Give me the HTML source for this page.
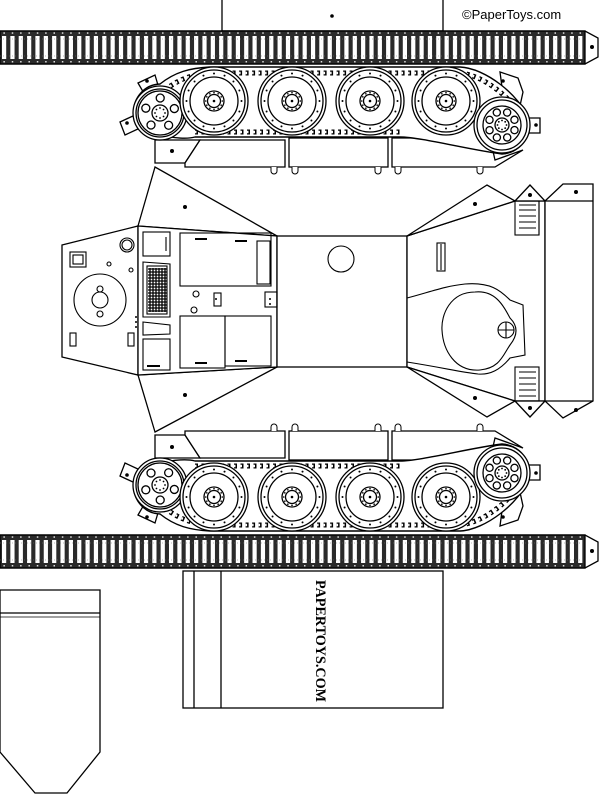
<!DOCTYPE html>
<html><head><meta charset="utf-8"><style>
html,body{margin:0;padding:0;background:#fff;width:600px;height:795px;overflow:hidden}
svg{display:block}
</style></head><body>
<svg id="s" width="600" height="795" viewBox="0 0 600 795" xmlns="http://www.w3.org/2000/svg" fill="none" stroke="#000" stroke-width="1.3">
<rect x="222" y="-2" width="221" height="33" fill="#fff"/>
<circle cx="332" cy="16" r="1.8" fill="#000" stroke="none"/>
<text x="462" y="19" font-family="Liberation Sans, sans-serif" font-size="13" fill="#000" stroke="none">©PaperToys.com</text>
<g id="track1"></g>
<g id="upper"></g>
<g id="lower" transform="translate(0,598) scale(1,-1)"></g>
<!-- hull -->
<g fill="#fff">
<polygon points="62,245 138,226 138,375 62,357"/>
<polygon points="155,167 138,226 277,236"/>
<polygon points="155,432 138,375 277,367"/>
<polygon points="138,226 277,236 277,367 138,375"/>
<rect x="277" y="236" width="130" height="131"/>
<polygon points="407,236 515,201 545,201 545,401 515,401 407,367"/>
<polygon points="407,236 487,185 515,201"/>
<polygon points="407,367 487,417 515,401"/>
<polygon points="515,201 530,185 545,201"/>
<polygon points="515,401 530,417 545,401"/>
<polygon points="545,201 563,184 593,184 593,401 563,418 545,401"/>
</g>
<line x1="545" y1="201" x2="593" y2="201"/><line x1="545" y1="401" x2="593" y2="401"/>
<g fill="#000" stroke="none">
<circle cx="185" cy="207" r="2"/><circle cx="185" cy="395" r="2"/>
<circle cx="475" cy="204" r="2"/><circle cx="475" cy="398" r="2"/>
<circle cx="530" cy="195" r="2"/><circle cx="530" cy="408" r="2"/>
<circle cx="576" cy="192" r="2"/><circle cx="576" cy="410" r="2"/>
</g>
<!-- vents right -->
<g stroke-width="1.1">
<rect x="515" y="201" width="24" height="34"/><line x1="539" y1="201" x2="539" y2="235"/>
<path d="M519 205h17M519 210h17M519 216h17M519 222h17M519 228h17"/>
<rect x="515" y="367" width="24" height="34"/>
<path d="M519 372h17M519 378h17M519 384h17M519 390h17M519 396h17"/>
<rect x="437" y="243" width="8" height="28"/><line x1="441" y1="244" x2="441" y2="270"/>
<circle cx="341" cy="259" r="13"/>
<path d="M407 298 C430 292 445 286 465 284 C490 282 500 290 510 300 L523 305 L525 355 L510 358 C500 370 490 375 478 374 C460 372 445 368 407 362"/>
<path d="M475 292 C450 292 441 315 442 330 C443 350 455 372 480 370 C500 368 503 355 510 345 C518 335 518 326 510 318 C503 305 495 290 475 292Z"/>
<circle cx="506" cy="330" r="8"/><path d="M498 330h16M506 322v16"/>
</g>
<!-- left side details -->
<g stroke-width="1.1">
<rect x="143" y="232" width="27" height="24"/><line x1="166" y1="237" x2="166" y2="251"/>
<polygon points="143,262 170,264 170,317 143,317"/>
<rect x="147" y="266" width="20" height="48" fill="#fff"/>
<g id="grid"></g>
<polygon points="143,322 170,325 170,334 143,335"/>
<rect x="143" y="339" width="27" height="31"/><line x1="147" y1="366" x2="160" y2="366" stroke-width="2"/>
<rect x="180" y="233" width="91" height="53"/><rect x="257" y="241" width="13" height="43"/>
<line x1="195" y1="239" x2="207" y2="239" stroke-width="2"/><line x1="235" y1="241" x2="247" y2="241" stroke-width="2"/>
<rect x="180" y="316" width="45" height="52"/><rect x="225" y="316" width="46" height="50"/>
<line x1="195" y1="363" x2="207" y2="363" stroke-width="2"/><line x1="235" y1="361" x2="247" y2="361" stroke-width="2"/>
<circle cx="196" cy="294" r="3"/><circle cx="194" cy="310" r="3"/>
<rect x="214" y="293" width="7" height="13"/>
<rect x="265" y="292" width="12" height="15"/>
<circle cx="127" cy="245" r="7"/><circle cx="127" cy="245" r="5"/>
<rect x="70" y="252" width="16" height="15"/><rect x="73" y="255" width="10" height="9"/>
<circle cx="109" cy="264" r="2"/><circle cx="131" cy="270" r="2"/>
<circle cx="100" cy="300" r="26"/><circle cx="100" cy="300" r="8"/>
<circle cx="100" cy="289" r="3"/><circle cx="100" cy="314" r="3"/>
<rect x="70" y="333" width="6" height="13"/><rect x="128" y="333" width="6" height="13"/>
</g>
<g fill="#000" stroke="none" id="lsd"><circle cx="136" cy="317" r="1"/><circle cx="136" cy="322" r="1"/><circle cx="136" cy="327" r="1"/><circle cx="216" cy="299" r="1"/><circle cx="270" cy="299" r="1"/><circle cx="270" cy="304" r="1"/></g>
<!-- bottom box -->
<rect x="183" y="571" width="260" height="137" fill="#fff"/>
<line x1="194" y1="571" x2="194" y2="708"/><line x1="221" y1="571" x2="221" y2="708"/>
<text x="0" y="0" transform="translate(316,580) rotate(90)" font-family="Liberation Serif, serif" font-weight="bold" font-size="15" fill="#000" stroke="none" textLength="122" lengthAdjust="spacingAndGlyphs">PAPERTOYS.COM</text>
<!-- left piece -->
<polygon points="0,590 100,590 100,752 67,793 35,793 0,752" fill="#fff"/>
<line x1="0" y1="613" x2="100" y2="613"/><line x1="0" y1="617" x2="100" y2="617" stroke-width="0.8"/>
<g id="track2"></g>
</svg>
<script>
const NS="http://www.w3.org/2000/svg";
function el(p,t,a){const e=document.createElementNS(NS,t);for(const k in a)e.setAttribute(k,a[k]);p.appendChild(e);return e;}
function track(g,y){
  el(g,'polygon',{points:`0,${y} 585,${y} 598,${y+7} 598,${y+26} 585,${y+33} 0,${y+33}`,fill:'#fff'});
  el(g,'rect',{x:0,y:y,width:585,height:33,fill:'#2a2a2a'});
  for(let x=2;x<585;x+=8.35){
    el(g,'rect',{x:x,y:y+5,width:4.2,height:23,fill:'#fff',stroke:'none'});
    el(g,'rect',{x:x+1.4,y:y+1.3,width:1.5,height:1.5,fill:'#ddd',stroke:'none'});
    el(g,'rect',{x:x+1.4,y:y+30,width:1.5,height:1.5,fill:'#ddd',stroke:'none'});
  }
  el(g,'line',{x1:0,y1:y+8,x2:585,y2:y+8,stroke:'#777','stroke-width':0.6,'stroke-dasharray':'1 2'});
  el(g,'line',{x1:0,y1:y+25,x2:585,y2:y+25,stroke:'#777','stroke-width':0.6,'stroke-dasharray':'1 2'});
  el(g,'circle',{cx:592,cy:y+16,r:2,fill:'#000',stroke:'none'});
}
track(document.getElementById('track1'),31);
track(document.getElementById('track2'),535);
function gear(g){
  // fenders
  el(g,'polygon',{points:'146,115 165,104 170,125 150,135',fill:'#fff'});
  el(g,'polygon',{points:'155,140 200,140 185,163 155,163',fill:'#fff'});
  el(g,'polygon',{points:'200,140 285,140 285,167 185,167 185,163',fill:'#fff'});
  el(g,'rect',{x:289,y:138,width:99,height:29,fill:'#fff'});
  el(g,'polygon',{points:'392,138 490,138 495,160 523,150 495,167 392,167',fill:'#fff'});
  el(g,'circle',{cx:172,cy:151,r:2,fill:'#000',stroke:'none'});
  [274,295,378,398,480].forEach(x=>{el(g,'path',{d:`M${x-3} 167 v4 a3 3 0 0 0 6 0 v-4`,fill:'#fff','stroke-width':1});});
  // tabs
  el(g,'polygon',{points:'120,122 135,115 140,128 125,135',fill:'#fff'});
  el(g,'circle',{cx:127,cy:123,r:1.8,fill:'#000',stroke:'none'});
  el(g,'polygon',{points:'138,83 155,75 160,92 145,95',fill:'#fff'});
  el(g,'circle',{cx:147,cy:81,r:1.8,fill:'#000',stroke:'none'});
  el(g,'polygon',{points:'500,72 518,78 523,92 518,115 505,110',fill:'#fff'});
  el(g,'circle',{cx:503,cy:81,r:1.8,fill:'#000',stroke:'none'});
  el(g,'polygon',{points:'528,118 540,118 540,133 528,133',fill:'#fff'});
  el(g,'circle',{cx:536,cy:125,r:1.8,fill:'#000',stroke:'none'});
  // track loop
  const loop='M160 84 C175 72 190 68 210 67 L460 67 C485 68 520 95 529 120 A29 29 0 0 1 502 154 C470 150 420 137 400 137 L195 137 C180 141 140 135 134 113 A27 27 0 0 1 160 84Z';
  el(g,'path',{d:loop,fill:'#fff','stroke-width':1.4});
  el(g,'path',{d:'M165 90 C180 78 195 74 210 73 L460 73 C483 75 512 98 522 118 M195 132 L400 132',stroke:'#000','stroke-width':5,'stroke-dasharray':'3 3.5'});
  el(g,'path',{d:'M165 90 C180 78 195 74 210 73 L460 73 C483 75 512 98 522 118 M195 132 L400 132',stroke:'#fff','stroke-width':2.5,'stroke-dasharray':'1.5 5'});
  // sprocket
  el(g,'circle',{cx:160,cy:113,r:27,fill:'#fff'});
  el(g,'circle',{cx:160,cy:113,r:24});el(g,'circle',{cx:160,cy:113,r:22});
  el(g,'circle',{cx:160,cy:113,r:8});
  for(let i=0;i<5;i++){const a=i*2*Math.PI/5-0.3;el(g,'circle',{cx:160+15*Math.cos(a),cy:113+15*Math.sin(a),r:4});}
  for(let i=0;i<8;i++){const a=i*Math.PI/4;el(g,'circle',{cx:160+5*Math.cos(a),cy:113+5*Math.sin(a),r:0.9,fill:'#000',stroke:'none'});}
  // road wheels
  [214,292,370,446].forEach(cx=>{const cy=101;
    el(g,'circle',{cx,cy,r:34,fill:'#fff'});el(g,'circle',{cx,cy,r:31});el(g,'circle',{cx,cy,r:24});
    for(let i=0;i<16;i++){const a=i*Math.PI/8;el(g,'circle',{cx:cx+27.5*Math.cos(a),cy:cy+27.5*Math.sin(a),r:1,fill:'#000',stroke:'none'});}
    el(g,'circle',{cx,cy,r:10});el(g,'circle',{cx,cy,r:6.5});
    for(let i=0;i<12;i++){const a=i*Math.PI/6;el(g,'circle',{cx:cx+8.3*Math.cos(a),cy:cy+8.3*Math.sin(a),r:0.8,fill:'#000',stroke:'none'});}
    el(g,'circle',{cx,cy,r:1.3,fill:'#000',stroke:'none'});
  });
  // idler
  const ix=502,iy=125;
  el(g,'circle',{cx:ix,cy:iy,r:28,fill:'#fff'});el(g,'circle',{cx:ix,cy:iy,r:25});el(g,'circle',{cx:ix,cy:iy,r:19});
  for(let i=0;i<8;i++){const a=i*Math.PI/4+0.39;el(g,'circle',{cx:ix+13.5*Math.cos(a),cy:iy+13.5*Math.sin(a),r:3.6});}
  el(g,'circle',{cx:ix,cy:iy,r:7});
  for(let i=0;i<8;i++){const a=i*Math.PI/4;el(g,'circle',{cx:ix+4.5*Math.cos(a),cy:iy+4.5*Math.sin(a),r:0.9,fill:'#000',stroke:'none'});}
}
gear(document.getElementById('upper'));
gear(document.getElementById('lower'));
const gr=document.getElementById('grid');
for(let x=150;x<=165;x+=3)el(gr,'line',{x1:x,y1:268,x2:x,y2:312,'stroke-width':1.3});
for(let y=269;y<=311;y+=3)el(gr,'line',{x1:148,y1:y,x2:167,y2:y,'stroke-width':1.3});
</script>
</body></html>
